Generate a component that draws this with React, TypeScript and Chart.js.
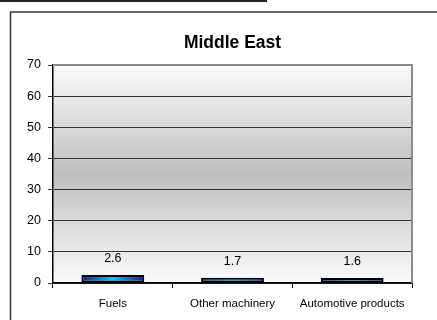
import React, { useEffect, useRef } from "react";
import { Chart, registerables } from "chart.js";

Chart.register(...registerables);

const categories = ["Fuels", "Other machinery", "Automotive products"];
const values = [2.6, 1.7, 1.6];
const yTicks = [0, 10, 20, 30, 40, 50, 60, 70];
const titleText = "Middle East";

const FONT = "'Liberation Sans', Arial, sans-serif";

export default function App() {
  const ref = useRef<HTMLCanvasElement | null>(null);

  useEffect(() => {
    document.body.style.margin = "0";
    const canvas = ref.current!;
    const catPct = 0.525;

    const decor = {
      id: "decor",
      beforeDraw(chart: any) {
        const ctx = chart.ctx;
        const a = chart.chartArea;
        ctx.save();
        ctx.fillStyle = "#ffffff";
        ctx.fillRect(0, 0, chart.width, chart.height);
        ctx.strokeStyle = "#222";
        ctx.lineWidth = 2;
        ctx.beginPath();
        ctx.moveTo(0, 1);
        ctx.lineTo(267, 1);
        ctx.stroke();
        ctx.lineWidth = 1.5;
        ctx.strokeStyle = "#333";
        ctx.beginPath();
        ctx.moveTo(10.5, 320);
        ctx.lineTo(10.5, 12);
        ctx.lineTo(437, 12);
        ctx.stroke();
        const g = ctx.createLinearGradient(0, a.top, 0, a.bottom);
        g.addColorStop(0, "#fbfbfb");
        g.addColorStop(0.5, "#bfbfbf");
        g.addColorStop(1, "#fbfbfb");
        ctx.fillStyle = g;
        ctx.fillRect(a.left, a.top, a.right - a.left, a.bottom - a.top);
        ctx.restore();
      },
      afterDatasetsDraw(chart: any) {
        const ctx = chart.ctx;
        const a = chart.chartArea;
        ctx.save();
        ctx.strokeStyle = "#8c8c8c";
        ctx.lineWidth = 2;
        ctx.beginPath();
        ctx.moveTo(a.left, a.top);
        ctx.lineTo(a.right, a.top);
        ctx.lineTo(a.right, a.bottom);
        ctx.stroke();
        const meta = chart.getDatasetMeta(0);
        ctx.fillStyle = "#000";
        ctx.font = `12.5px ${FONT}`;
        ctx.textAlign = "center";
        ctx.textBaseline = "bottom";
        meta.data.forEach((el: any, i: number) => {
          ctx.fillText(values[i].toFixed(1), el.x, el.y - 10);
        });
        ctx.restore();
      },
    };

    const chart = new Chart(canvas, {
      type: "bar",
      data: {
        labels: categories,
        datasets: [
          {
            data: values,
            backgroundColor: (c: any) => {
              const ch = c.chart;
              const xs = ch.scales?.x;
              if (!xs || !ch.chartArea) return "#1aa0e0";
              const cx = xs.getPixelForValue(c.dataIndex);
              const w = (xs.width / categories.length) * catPct;
              const g = ch.ctx.createLinearGradient(cx - w / 2, 0, cx + w / 2, 0);
              g.addColorStop(0, "#18208a");
              g.addColorStop(0.5, "#00c8f5");
              g.addColorStop(1, "#18208a");
              return g;
            },
            borderColor: "#000",
            borderWidth: 2,
            borderSkipped: false,
            categoryPercentage: catPct,
            barPercentage: 1,
          },
        ],
      },
      options: {
        responsive: false,
        animation: false,
        layout: { padding: { left: 0, right: 25, top: 0, bottom: 0 } },
        plugins: {
          legend: { display: false },
          tooltip: { enabled: false },
          title: {
            display: true,
            fullSize: false,
            text: titleText,
            color: "#000",
            font: { family: FONT, size: 17.5, weight: "bold" },
            padding: { top: 33, bottom: 11 },
          },
        },
        scales: {
          x: {
            grid: {
              display: true,
              drawOnChartArea: false,
              drawTicks: true,
              tickLength: 5,
              color: "#000",
              offset: true,
            },
            border: { display: true, color: "#000", width: 1.5 },
            ticks: {
              color: "#000",
              font: { family: FONT, size: 11.5 },
              padding: 9,
              maxRotation: 0,
              autoSkip: false,
            },
            afterFit: (s: any) => {
              s.height = 37;
            },
          },
          y: {
            min: 0,
            max: 70,
            afterBuildTicks: (s: any) => {
              s.ticks = yTicks.map((v) => ({ value: v }));
            },
            grid: {
              color: "#333",
              lineWidth: 1,
              tickLength: 5,
              drawTicks: true,
            },
            border: { display: true, color: "#000", width: 1.5 },
            ticks: {
              color: "#000",
              font: { family: FONT, size: 12.5 },
              padding: 7,
            },
            afterFit: (s: any) => {
              s.width = 53;
            },
          },
        },
      },
      plugins: [decor],
    });
    return () => chart.destroy();
  }, []);

  return (
    <div style={{ position: "absolute", left: 0, top: 0, width: 437, height: 320 }}>
      <canvas ref={ref} width={437} height={320} style={{ width: 437, height: 320 }} />
    </div>
  );
}
